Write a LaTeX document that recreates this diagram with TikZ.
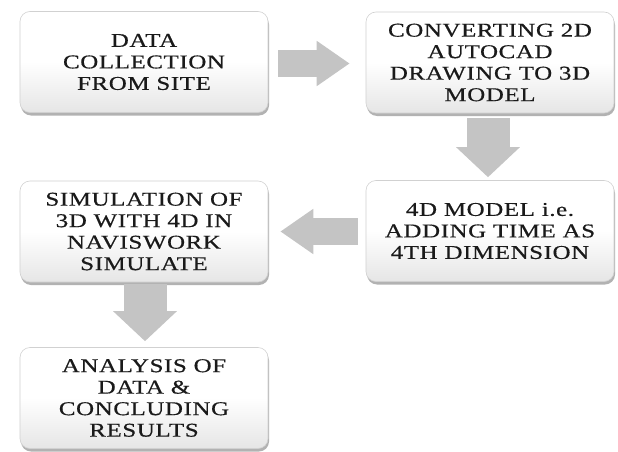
\documentclass[tikz,border=0pt]{standalone}
\usepackage{fontspec}
\setmainfont{Liberation Serif}[FakeStretch=1.28,LetterSpace=3,FakeBold=0.5]
\usetikzlibrary{arrows.meta,shadows}
\definecolor{txt}{HTML}{1A1A1A}
\definecolor{arr}{HTML}{C4C4C4}
\tikzset{
  procbox/.style={rectangle, rounded corners=10pt, minimum width=248pt, minimum height=101pt,
    top color=white, bottom color=black!10, middle color=white, draw=black!18, line width=0.6pt,
    drop shadow={opacity=0.55, shadow xshift=1pt, shadow yshift=-3pt, fill=black!55},
    align=center, text=txt, font=\fontsize{19.5}{21.5}\selectfont, inner sep=0pt},
  flowarrow/.style={draw=arr, line width=27pt, -{Triangle[width=43pt,length=33pt,fill=arr]}},
  downarrow/.style={draw=arr, line width=43pt, -{Triangle[width=62pt,length=30pt,fill=arr]}}
}
\begin{document}
\begin{tikzpicture}[x=1pt,y=1pt]
\useasboundingbox[fill=white] (0,0) rectangle (618,451);
\node[procbox] (b1) at (144,389) {DATA\\COLLECTION\\FROM SITE};
\node[procbox] (b2) at (490,388.5) {CONVERTING 2D\\AUTOCAD\\DRAWING TO 3D\\MODEL};
\node[procbox] (b3) at (490,220) {4D MODEL i.e.\\ADDING TIME AS\\4TH DIMENSION};
\node[procbox] (b4) at (144,219.5) {SIMULATION OF\\3D WITH 4D IN\\NAVISWORK\\SIMULATE};
\node[procbox] (b5) at (144,53) {ANALYSIS OF\\DATA \&\\CONCLUDING\\RESULTS};
\draw[flowarrow, shorten <=10pt, shorten >=16pt] (b1.east |- 0,387.5) -- (b2.west |- 0,387.5);
\draw[downarrow, shorten <=5pt, shorten >=3pt] (b2.south -| 488,0) -- (b3.north -| 488,0);
\draw[flowarrow, shorten <=8pt, shorten >=12pt] (b3.west |- 0,219.5) -- (b4.east |- 0,219.5);
\draw[downarrow, shorten <=2pt, shorten >=6pt] (b4.south -| 145,0) -- (b5.north -| 145,0);
\end{tikzpicture}
\end{document}
